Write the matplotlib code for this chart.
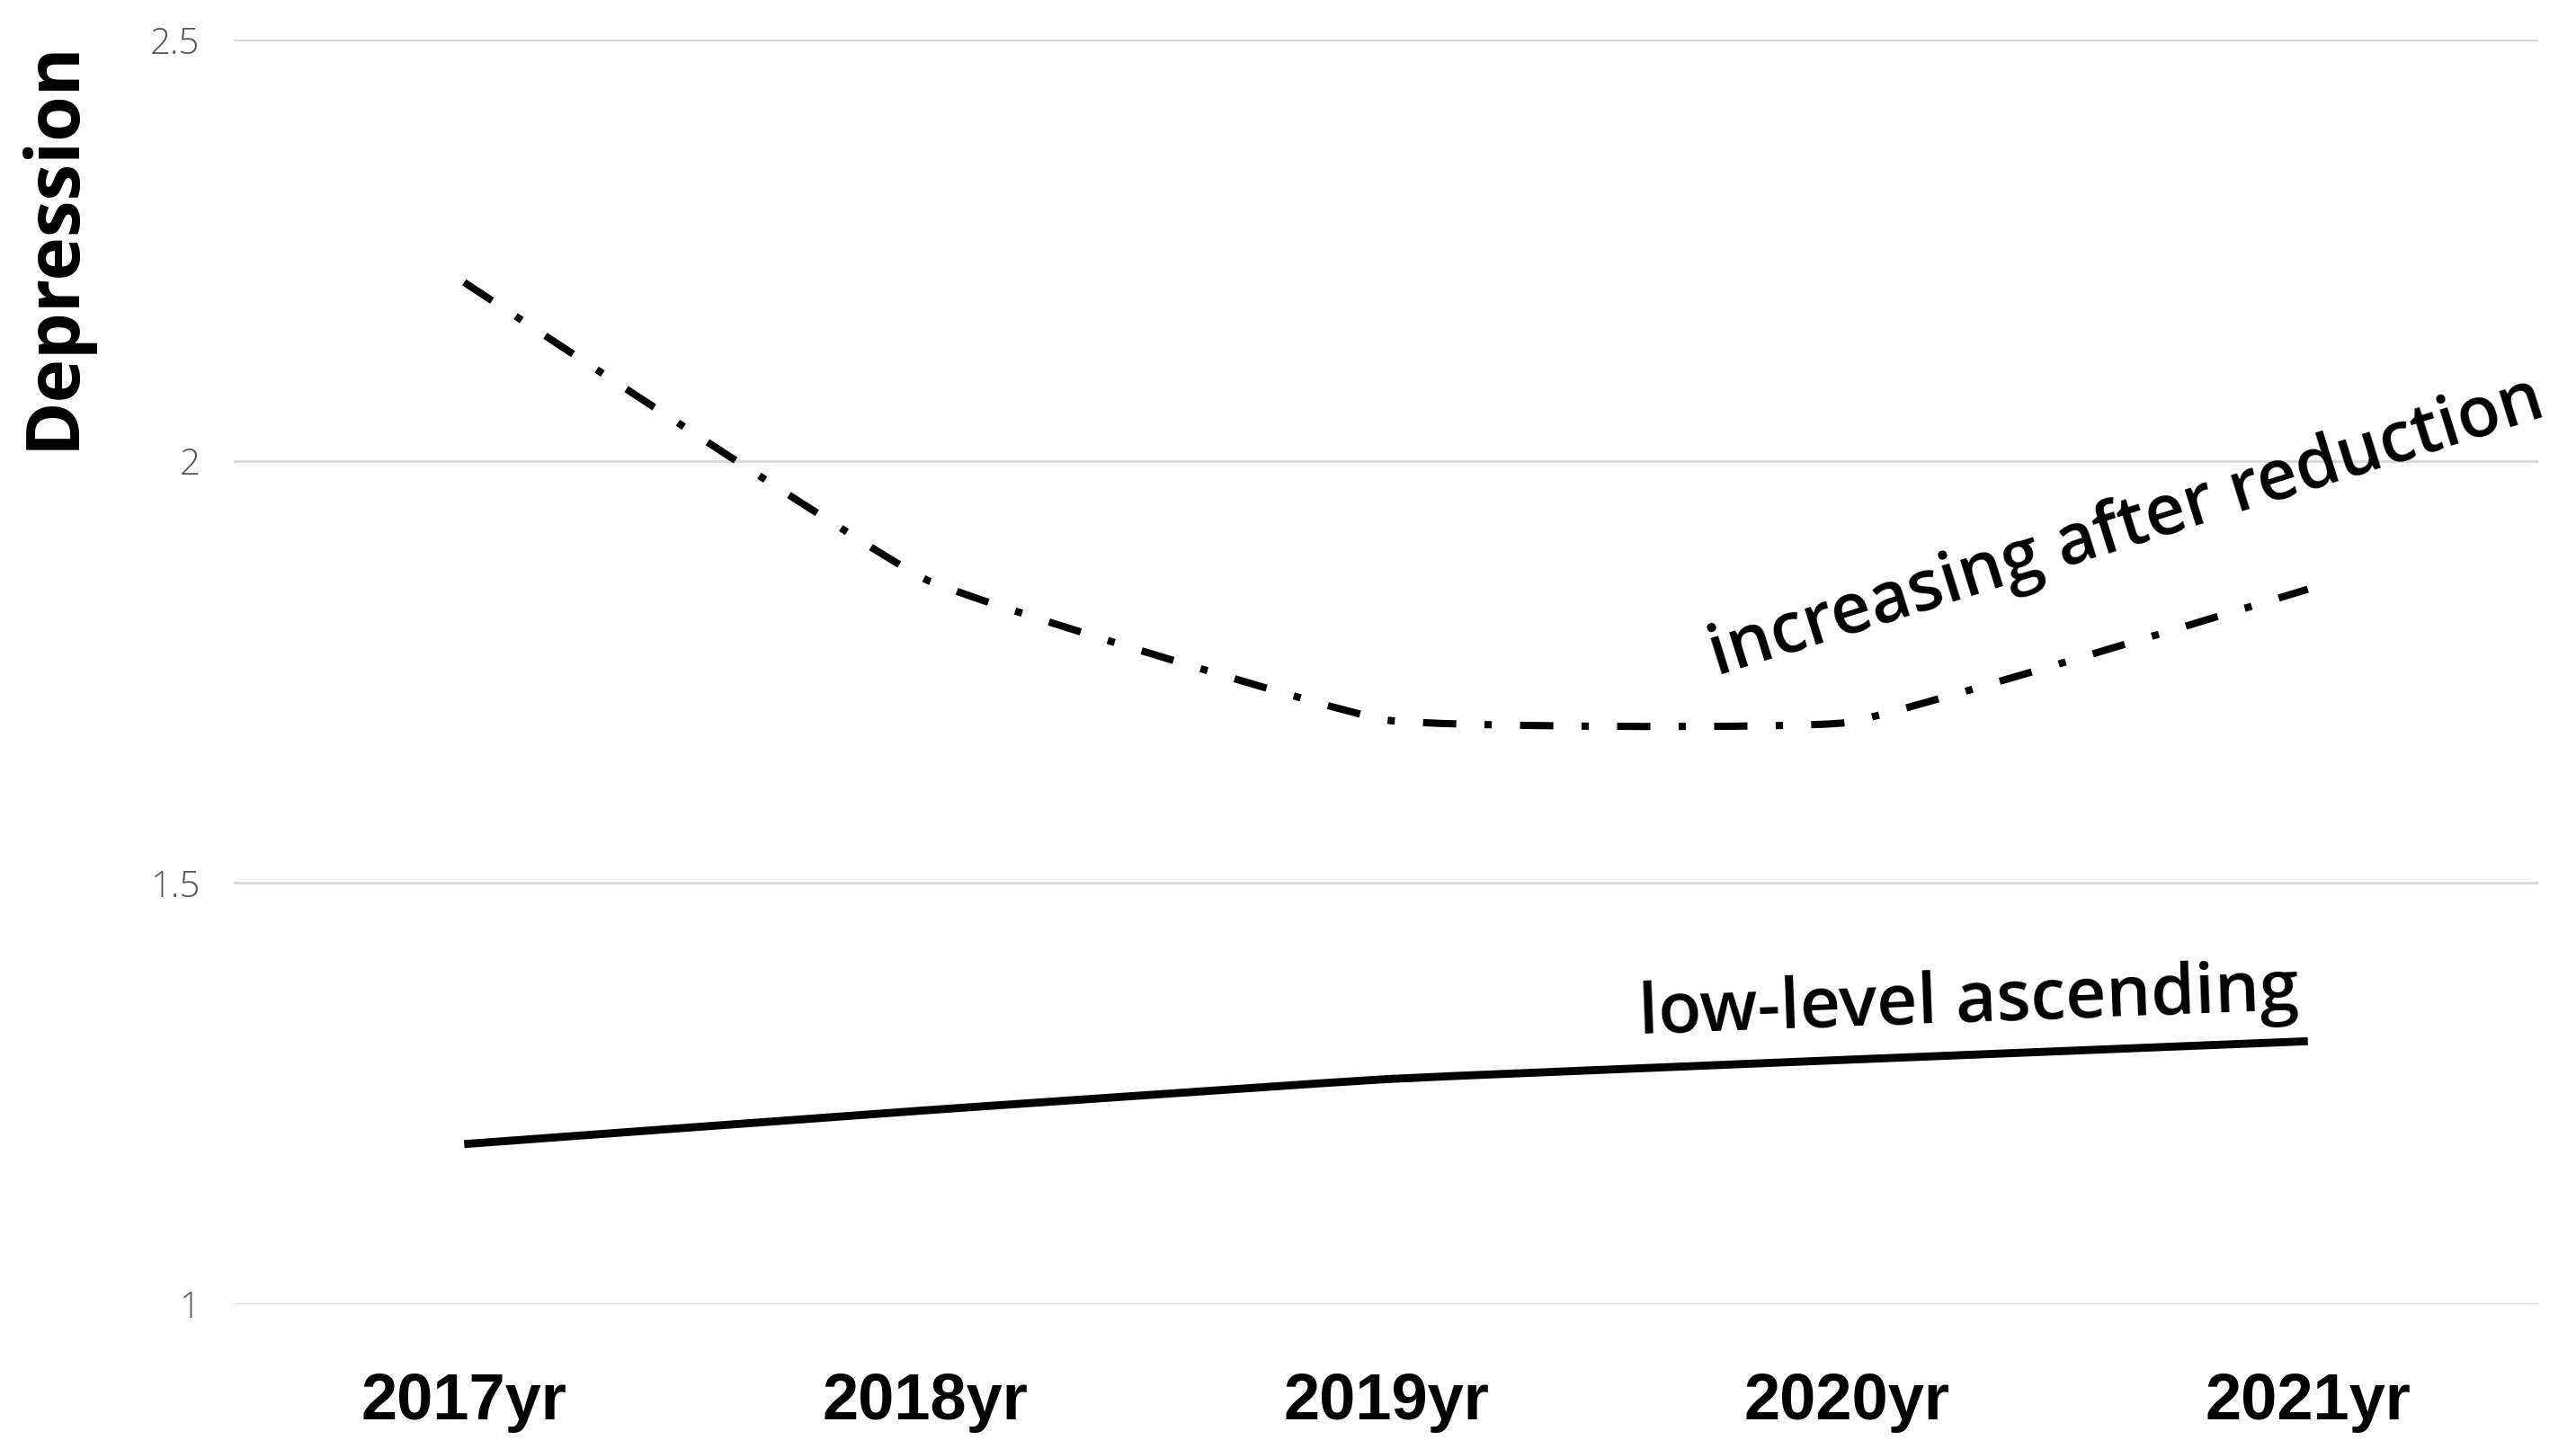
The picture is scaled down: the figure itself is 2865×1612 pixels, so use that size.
import matplotlib
matplotlib.use("Agg")
import matplotlib.pyplot as plt
from matplotlib.path import Path
from matplotlib.patches import PathPatch
import numpy as np

years = ["2017yr", "2018yr", "2019yr", "2020yr", "2021yr"]
increasing_after_reduction = [2.212, 1.860, 1.693, 1.690, 1.848]
low_level_ascending = [1.190, 1.230, 1.267, 1.290, 1.312]
y_ticks = [1, 1.5, 2, 2.5]
y_tick_labels = ["1", "1.5", "2", "2.5"]
y_label = "Depression"
label_up = "increasing after reduction"
label_low = "low-level ascending"

W, H, DPI = 2865, 1612, 100
fig = plt.figure(figsize=(W / DPI, H / DPI), dpi=DPI)
ax = fig.add_axes([260 / W, 1 - 1451 / H, (2823 - 260) / W, (1451 - 44) / H])


def smooth_path(xs, ys, k=0.05):
    pts = np.column_stack([xs, ys]).astype(float)
    n = len(pts)
    verts = [pts[0]]
    codes = [Path.MOVETO]
    for i in range(n - 1):
        p0 = pts[i - 1] if i > 0 else pts[i]
        p1 = pts[i]
        p2 = pts[i + 1]
        p3 = pts[i + 2] if i + 2 < n else pts[i + 1]
        c1 = p1 + (p2 - p0) * k
        c2 = p2 - (p3 - p1) * k
        verts += [c1, c2, p2]
        codes += [Path.CURVE4] * 3
    return Path(verts, codes)


x = np.arange(len(years))
p_up = PathPatch(smooth_path(x, increasing_after_reduction), fill=False,
                 edgecolor="black", linewidth=5.8,
                 linestyle=(0, (4.6, 3.9, 1.0, 3.9)), capstyle="butt",
                 joinstyle="round", zorder=3)
p_low = PathPatch(smooth_path(x, low_level_ascending), fill=False,
                  edgecolor="black", linewidth=6.4, capstyle="butt",
                  joinstyle="round", zorder=3)
ax.add_patch(p_up)
ax.add_patch(p_low)

ax.set_xlim(-0.5, len(years) - 0.5)
ax.set_ylim(1, 2.5)
ax.set_yticks(y_ticks)
ax.set_yticklabels(y_tick_labels, fontfamily=["Open Sans", "DejaVu Sans"],
                   fontweight="light", fontsize=29, color="#555555")
ax.set_xticks(x)
ax.set_xticklabels(years, fontfamily="Liberation Sans", fontweight="bold",
                   fontsize=52, color="black")
ax.tick_params(axis="y", length=0, pad=27)
ax.tick_params(axis="x", length=0, pad=54)
ax.grid(axis="y", color="#d9d9d9", linewidth=2.2)
ax.set_axisbelow(True)
for s in ax.spines.values():
    s.set_visible(False)

fig.text(60 / W, 1 - 272 / H, y_label, rotation=90, ha="center", va="center",
         fontfamily=["Open Sans", "DejaVu Sans"], fontweight="bold",
         fontsize=59, color="black")

fig.text(1909 / W, 1 - 752 / H, label_up, rotation=17.4, rotation_mode="anchor",
         ha="left", va="baseline", fontfamily=["Open Sans", "DejaVu Sans"],
         fontweight="semibold", fontsize=56, color="black")
fig.text(1823 / W, 1 - 1150 / H, label_low, rotation=2.1, rotation_mode="anchor",
         ha="left", va="baseline", fontfamily=["Open Sans", "DejaVu Sans"],
         fontweight="semibold", fontsize=56.5, color="black")

fig.savefig("out.png", dpi=DPI, facecolor="white")
